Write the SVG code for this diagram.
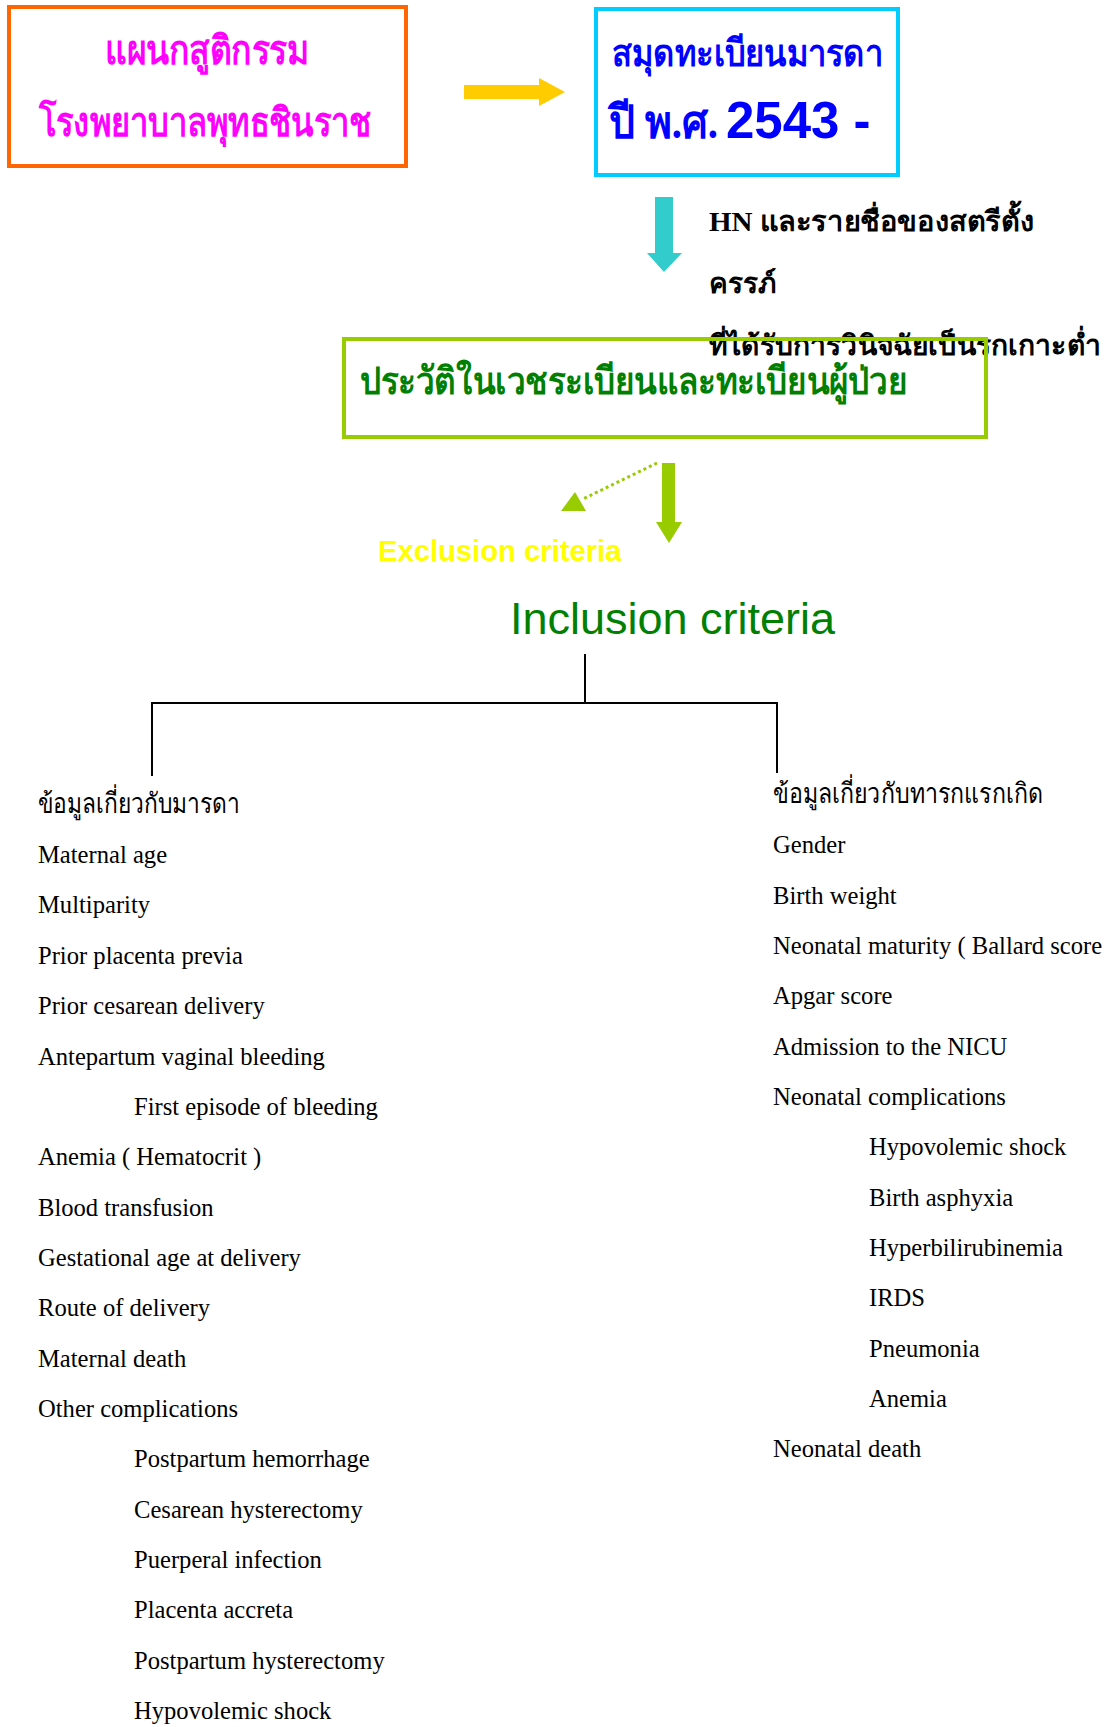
<svg xmlns="http://www.w3.org/2000/svg" width="1107" height="1727" viewBox="0 0 1107 1727">
<style>
.th { font-family: "Liberation Serif", serif; }
.item { font-family: "Liberation Serif", serif; font-size: 24.6px; fill: #000; }
.box { fill: none; stroke-width: 4; }
.tree { fill: none; stroke: #000; stroke-width: 2; }
</style>
<rect width="1107" height="1727" fill="#fff"/>

<g id="node-dept">
  <rect class="box" x="9" y="7" width="397" height="159" stroke="#ff6600"/>
  <text class="th" x="207" y="64" text-anchor="middle" font-size="40" font-weight="bold" fill="#ff00ff" textLength="204" lengthAdjust="spacingAndGlyphs">แผนกสูติกรรม</text>
  <text class="th" x="205" y="136" text-anchor="middle" font-size="40" font-weight="bold" fill="#ff00ff" textLength="332" lengthAdjust="spacingAndGlyphs">โรงพยาบาลพุทธชินราช</text>
</g>

<g id="node-register">
  <rect class="box" x="596" y="9" width="302" height="166" stroke="#00ccff"/>
  <text class="th" x="612" y="66" font-size="38" font-weight="bold" fill="#0000ff" textLength="271" lengthAdjust="spacingAndGlyphs">สมุดทะเบียนมารดา</text>
  <text class="th" x="609" y="138" font-size="46" font-weight="bold" fill="#0000ff" textLength="109" lengthAdjust="spacingAndGlyphs">ปี พ.ศ.</text>
  <text x="726" y="138" font-family="'Liberation Sans', Arial, sans-serif" font-size="51" font-weight="bold" fill="#0000ff">2543 -</text>
</g>

<g id="node-hn">
  <text class="th" x="709" y="231" font-size="28" font-weight="bold" fill="#000" textLength="325" lengthAdjust="spacingAndGlyphs">HN และรายชื่อของสตรีตั้ง</text>
  <text class="th" x="709" y="293" font-size="28" font-weight="bold" fill="#000" textLength="67" lengthAdjust="spacingAndGlyphs">ครรภ์</text>
  <text class="th" x="709" y="355" font-size="28" font-weight="bold" fill="#000" textLength="392" lengthAdjust="spacingAndGlyphs">ที่ได้รับการวินิจฉัยเป็นรกเกาะต่ำ</text>
</g>

<g id="node-records">
  <rect class="box" x="344" y="339" width="642" height="98" stroke="#99cc00"/>
  <text class="th" x="360" y="394" font-size="38" font-weight="bold" fill="#008000" textLength="547" lengthAdjust="spacingAndGlyphs">ประวัติในเวชระเบียนและทะเบียนผู้ป่วย</text>
</g>

<g id="node-exclusion">
  <text x="378" y="561" font-family="'Liberation Sans', Arial, sans-serif" font-size="29.2" font-weight="bold" fill="#ffff00">Exclusion criteria</text>
</g>

<g id="node-inclusion">
  <text x="510" y="634" font-family="'Liberation Sans', Arial, sans-serif" font-size="45" fill="#008000">Inclusion criteria</text>
</g>

<g id="connectors">
  <polygon points="464,85 539,85 539,78 565,92 539,106 539,99 464,99" fill="#ffcc00"/>
  <polygon points="655,197 673,197 673,253 682,253 664,272 647,253 655,253" fill="#33cccc"/>
  <polygon points="662,463 675,463 675,522 682,522 669,543 656,522 662,522" fill="#99cc00"/>
  <line x1="657" y1="463" x2="583" y2="499" stroke="#99cc00" stroke-width="3" stroke-dasharray="3,3"/>
  <polygon points="575,492 561,511 586,511" fill="#99cc00"/>
  <path class="tree" d="M152,776 V703 H777 V773"/>
  <path class="tree" d="M585,654 V703"/>
</g>

<g id="node-maternal">
  <text class="th" x="38" y="813" font-size="28" fill="#000" textLength="202" lengthAdjust="spacingAndGlyphs">ข้อมูลเกี่ยวกับมารดา</text>
  <text class="item" x="38" y="863">Maternal age</text>
  <text class="item" x="38" y="913">Multiparity</text>
  <text class="item" x="38" y="964">Prior placenta previa</text>
  <text class="item" x="38" y="1014">Prior cesarean delivery</text>
  <text class="item" x="38" y="1065">Antepartum vaginal bleeding</text>
  <text class="item" x="134" y="1115">First episode of bleeding</text>
  <text class="item" x="38" y="1165">Anemia ( Hematocrit )</text>
  <text class="item" x="38" y="1216">Blood transfusion</text>
  <text class="item" x="38" y="1266">Gestational age at delivery</text>
  <text class="item" x="38" y="1316">Route of delivery</text>
  <text class="item" x="38" y="1367">Maternal death</text>
  <text class="item" x="38" y="1417">Other complications</text>
  <text class="item" x="134" y="1467">Postpartum hemorrhage</text>
  <text class="item" x="134" y="1518">Cesarean hysterectomy</text>
  <text class="item" x="134" y="1568">Puerperal infection</text>
  <text class="item" x="134" y="1618">Placenta accreta</text>
  <text class="item" x="134" y="1669">Postpartum hysterectomy</text>
  <text class="item" x="134" y="1719">Hypovolemic shock</text>
</g>

<g id="node-neonatal">
  <text class="th" x="773" y="803" font-size="28" fill="#000" textLength="270" lengthAdjust="spacingAndGlyphs">ข้อมูลเกี่ยวกับทารกแรกเกิด</text>
  <text class="item" x="773" y="853">Gender</text>
  <text class="item" x="773" y="904">Birth weight</text>
  <text class="item" x="773" y="954">Neonatal maturity ( Ballard score</text>
  <text class="item" x="773" y="1004">Apgar score</text>
  <text class="item" x="773" y="1055">Admission to the NICU</text>
  <text class="item" x="773" y="1105">Neonatal complications</text>
  <text class="item" x="869" y="1155">Hypovolemic shock</text>
  <text class="item" x="869" y="1206">Birth asphyxia</text>
  <text class="item" x="869" y="1256">Hyperbilirubinemia</text>
  <text class="item" x="869" y="1306">IRDS</text>
  <text class="item" x="869" y="1357">Pneumonia</text>
  <text class="item" x="869" y="1407">Anemia</text>
  <text class="item" x="773" y="1457">Neonatal death</text>
</g>
</svg>
